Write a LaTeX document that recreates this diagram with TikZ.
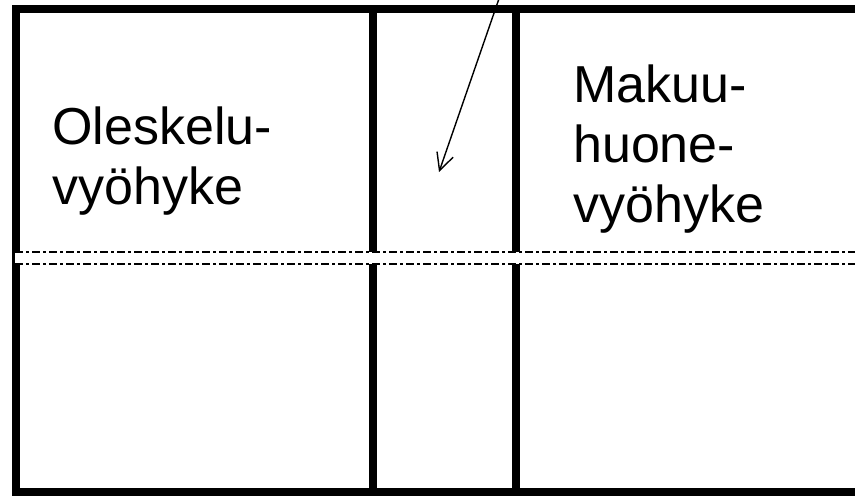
\documentclass[tikz,border=0pt]{standalone}
\usepackage{fontspec}
\setmainfont{Liberation Sans}
\usetikzlibrary{arrows.meta}

\begin{document}
\begin{tikzpicture}[x=1pt,y=1pt,
  wall/.style={line width=8pt},
  axis/.style={line width=2.8pt, dash pattern=on 8pt off 3pt on 3pt off 3pt},
  zone/.style={inner sep=0pt, align=left, font=\fontsize{52}{60}\selectfont}]
\useasboundingbox (0,0) rectangle (855,496);
\clip (0,0) rectangle (855,496);

% walls
\draw[wall] (870,487) -- (16,487) -- (16,4.5) -- (870,4.5);
\draw[wall] (373,487) -- (373,4.5);
\draw[wall] (515.5,487) -- (515.5,4.5);

% cut
\fill[white] (15,232) rectangle (870,244);
\draw[axis] (15,244) -- (870,244);
\draw[axis] (15,232) -- (870,232);

\node[zone, anchor=north west] (olo) at (52,389) {Oleskelu-\\vyöhyke};
\node[zone, anchor=north west] (makuu) at (573,431) {Makuu-\\huone-\\vyöhyke};

\coordinate (tag) at (502,506);
\coordinate (hall) at (439,324);
\draw[-{Straight Barb[length=17pt,width=17pt]}, line width=1.4pt] (tag) -- (hall);
\end{tikzpicture}
\end{document}
